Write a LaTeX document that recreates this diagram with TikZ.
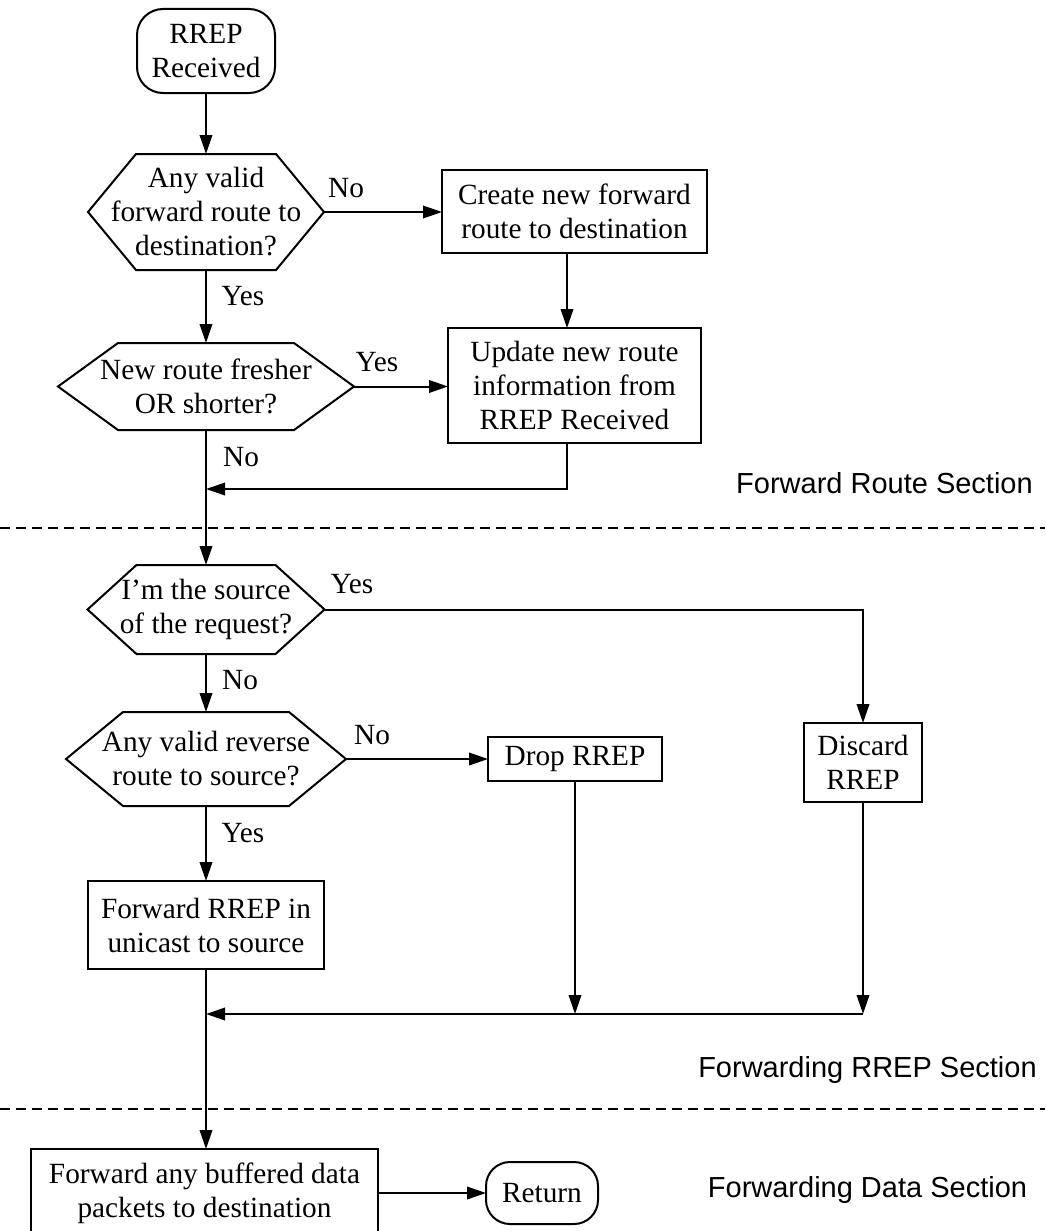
\documentclass[tikz,border=0pt]{standalone}
\usepackage{fontspec}
\setmainfont{Liberation Serif}
\newfontfamily\sectionfont{Liberation Sans}
\usetikzlibrary{arrows.meta}
\begin{document}
\begin{tikzpicture}[x=1pt, y=-1pt,
  font=\fontsize{29.3pt}{34pt}\selectfont,
  line width=2pt,
  base/.style={inner sep=0pt, outer sep=0pt, align=center},
  box/.style={base, draw, rectangle},
  term/.style={base, draw, rounded corners=26pt},
  hexa/.style={base},
  flow/.style={-{Triangle[length=19pt,width=12.5pt]}},
  lbl/.style={inner sep=0pt},
  section/.style={inner sep=0pt, font=\sectionfont\fontsize{29pt}{34pt}\selectfont},
  divider/.style={dash pattern=on 10pt off 6pt, line width=1.7pt}]

\useasboundingbox (0,0) rectangle (1045,1231);

% start / end terminators
\node[term, minimum width=138pt, minimum height=84pt] (start) at (206,51) {RREP\\Received};
\node[term, rounded corners=24pt, minimum width=112pt, minimum height=62pt] (ret) at (542,1193) {Return};

% decisions (hexagon outlines drawn below)
\node[hexa, minimum width=236pt, minimum height=116pt] (q1) at (206,212) {Any valid\\forward route to\\destination?};
\node[hexa, minimum width=296pt, minimum height=87pt] (q2) at (206,386.5) {New route fresher\\OR shorter?};
\node[hexa, minimum width=237pt, minimum height=89pt] (q3) at (206,609.5) {I'm the source\\of the request?};
\node[hexa, minimum width=280pt, minimum height=94pt] (q4) at (206,759) {Any valid reverse\\route to source?};

\foreach \n/\d in {q1/48,q2/60,q3/49,q4/57}{
  \draw (\n.west) -- ([xshift=\d]\n.north west) -- ([xshift=-\d]\n.north east)
    -- (\n.east) -- ([xshift=-\d]\n.south east) -- ([xshift=\d]\n.south west) -- cycle;
}

% processes
\node[box, minimum width=265pt, minimum height=83pt] (b1) at (574.5,211.5) {Create new forward\\route to destination};
\node[box, minimum width=253pt, minimum height=115pt] (b2) at (574.5,385.5) {Update new route\\information from\\RREP Received};
\node[box, minimum width=174pt, minimum height=44pt] (drop) at (575,759) {Drop RREP};
\node[box, minimum width=118pt, minimum height=79pt] (disc) at (863,762.5) {Discard\\RREP};
\node[box, minimum width=236pt, minimum height=88pt] (fr) at (206,925) {Forward RREP in\\unicast to source};
\node[box, minimum width=347pt, minimum height=88pt] (fd) at (204.5,1193) {Forward any buffered data\\packets to destination};

% junctions
\coordinate (colB) at (567,0);
\coordinate (m1) at (206,489);
\coordinate (m2) at (206,1014);

% connectors
\draw[flow] (start) -- (q1);
\draw[flow] (q1.east) -- (q1.east -| b1.west);
\draw[flow] (b1.south -| colB) -- (b2.north -| colB);
\draw[flow] (q1.south) -- (q2.north);
\draw[flow] (q2.east) -- (q2.east -| b2.west);
\draw[flow] (b2.south -| colB) |- (m1);
\draw[flow] (q2.south) -- (q3.north);
\draw[flow] (q3.east) -| (disc.north);
\draw[flow] (q3.south) -- (q4.north);
\draw[flow] (q4.east) -- (q4.east -| drop.west);
\draw[flow] (q4.south) -- (fr.north);
\draw[flow] (drop.south) -- (drop.south |- m2);
\draw[flow] (disc.south) -- (disc.south |- m2);
\draw[flow] (disc.south |- m2) -- (m2);
\draw[flow] (fr.south) -- (fr.south |- fd.north);
\draw[flow] (fd.east) -- (ret.west);

% branch labels
\node[lbl] (n1) at (346,188) {No};
\node[lbl] (y1) at (243,296) {Yes};
\node[lbl] (y2) at (377,362) {Yes};
\node[lbl] (n2) at (241,457) {No};
\node[lbl] (y3) at (352,584) {Yes};
\node[lbl] (n3) at (240,680) {No};
\node[lbl] (n4) at (372,735) {No};
\node[lbl] (y4) at (243,833) {Yes};

% section dividers and titles
\draw[divider] (0,528) -- (1045,528);
\draw[divider] (0,1109) -- (1045,1109);
\node[section] (s1) at (884.5,483) {Forward Route Section};
\node[section] (s2) at (867.5,1070) {Forwarding RREP Section};
\node[section] (s3) at (867.5,1190) {Forwarding Data Section};
\end{tikzpicture}
\end{document}
